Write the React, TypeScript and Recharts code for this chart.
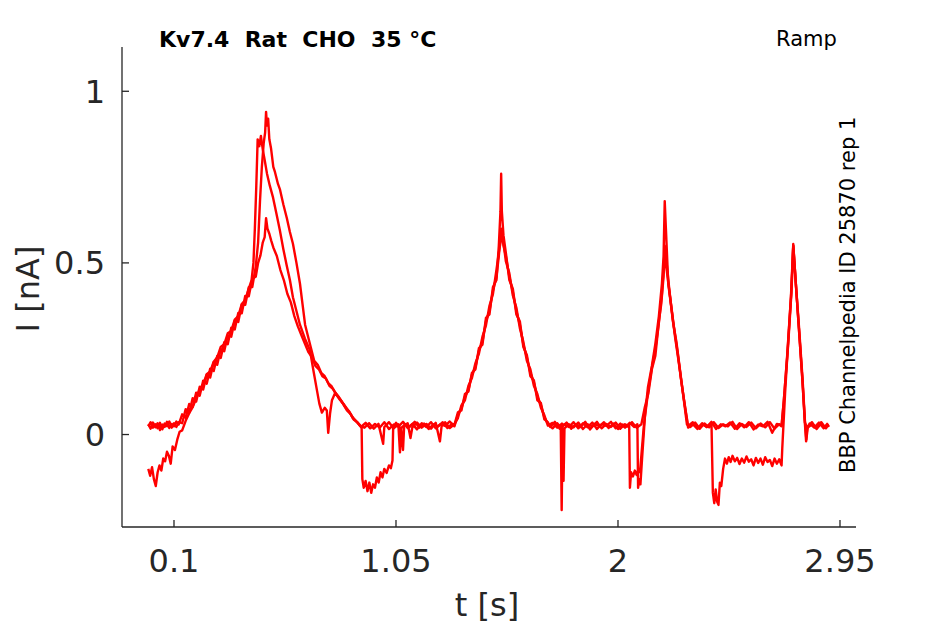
import { LineChart, Line, XAxis, YAxis } from 'recharts';

// time [s], current [nA], one list per sweep
const traceA: [number, number][] = [
  [-0.01, 0.03], [0.0, 0.017], [0.01, 0.035], [0.02, 0.021], [0.03, 0.033], [0.04, 0.013], [0.05, 0.029], [0.06, 0.022], [0.07, 0.037], [0.08, 0.019], [0.09, 0.031], [0.1, 0.024], [0.11, 0.038], [0.12, 0.029],
  [0.135, 0.059], [0.15, 0.048], [0.165, 0.089], [0.18, 0.08], [0.195, 0.122], [0.21, 0.113], [0.225, 0.157], [0.24, 0.148], [0.255, 0.192], [0.27, 0.185], [0.285, 0.229], [0.3, 0.223], [0.315, 0.269], [0.33, 0.263], [0.345, 0.311], [0.36, 0.306], [0.375, 0.354], [0.39, 0.353], [0.405, 0.404], [0.42, 0.403], [0.435, 0.454], [0.45, 0.46], [0.46, 0.5], [0.47, 0.522], [0.48, 0.56], [0.488, 0.575], [0.494, 0.63], [0.5, 0.6],
  [0.508, 0.585], [0.516, 0.565], [0.525, 0.545], [0.54, 0.52], [0.555, 0.48], [0.57, 0.45], [0.585, 0.41], [0.6, 0.385], [0.615, 0.345], [0.63, 0.315], [0.645, 0.29], [0.66, 0.265], [0.675, 0.24], [0.69, 0.226], [0.705, 0.2], [0.72, 0.19], [0.735, 0.17], [0.75, 0.163], [0.765, 0.142], [0.78, 0.133], [0.795, 0.116], [0.81, 0.101], [0.825, 0.088], [0.84, 0.07], [0.855, 0.06], [0.87, 0.043], [0.885, 0.036], [0.9, 0.022],
  [0.92, 0.034], [0.94, 0.018], [0.96, 0.031], [0.98, 0.02], [1.0, 0.036], [1.02, 0.016], [1.04, 0.029], [1.06, 0.023], [1.08, 0.037], [1.1, 0.019], [1.12, 0.031], [1.14, 0.015], [1.16, 0.033], [1.18, 0.022], [1.2, 0.036], [1.22, 0.018], [1.24, 0.03], [1.26, 0.025], [1.28, 0.038], [1.3, 0.024],
  [1.315, 0.058], [1.33, 0.076], [1.345, 0.11], [1.36, 0.13], [1.375, 0.175], [1.39, 0.196], [1.405, 0.245], [1.42, 0.27], [1.435, 0.33], [1.45, 0.36], [1.465, 0.42], [1.48, 0.46], [1.49, 0.52], [1.5, 0.6], [1.51, 0.55], [1.52, 0.52], [1.535, 0.46], [1.55, 0.415], [1.565, 0.36], [1.58, 0.32], [1.595, 0.262], [1.61, 0.225], [1.625, 0.18], [1.64, 0.152], [1.655, 0.11], [1.67, 0.086], [1.685, 0.05], [1.7, 0.032],
  [1.72, 0.018], [1.74, 0.033], [1.755, 0.021], [1.759, -0.22], [1.763, 0.024], [1.78, 0.035], [1.8, 0.017], [1.82, 0.03], [1.84, 0.022], [1.86, 0.037], [1.88, 0.015], [1.9, 0.031], [1.92, 0.024], [1.94, 0.036], [1.96, 0.019], [1.98, 0.032], [2.0, 0.016], [2.02, 0.029], [2.04, 0.023], [2.06, 0.036], [2.08, 0.02], [2.1, 0.03],
  [2.115, 0.08], [2.13, 0.12], [2.145, 0.19], [2.16, 0.23], [2.175, 0.33], [2.185, 0.38], [2.195, 0.46], [2.2, 0.53], [2.21, 0.47], [2.225, 0.39], [2.24, 0.31], [2.255, 0.24], [2.27, 0.16], [2.285, 0.09], [2.3, 0.025],
  [2.32, 0.036], [2.34, 0.018], [2.36, 0.031], [2.38, 0.022], [2.4, 0.037], [2.42, 0.016], [2.44, 0.03], [2.46, 0.024], [2.48, 0.035], [2.5, 0.017], [2.52, 0.033], [2.54, 0.021], [2.56, 0.036], [2.58, 0.015], [2.6, 0.029], [2.62, 0.024], [2.64, 0.037], [2.66, 0.005], [2.68, 0.031], [2.7, 0.026],
  [2.71, 0.1], [2.725, 0.24], [2.74, 0.4], [2.75, 0.555], [2.76, 0.45], [2.775, 0.3], [2.79, 0.15], [2.8, 0.03], [2.805, -0.02], [2.81, 0.022],
  [2.83, 0.036], [2.85, 0.016], [2.87, 0.033], [2.885, 0.02], [2.9, 0.03],
];

const traceB: [number, number][] = [
  [-0.01, -0.1], [-0.002, -0.12], [0.006, -0.095], [0.014, -0.13], [0.022, -0.15], [0.03, -0.11], [0.038, -0.09], [0.046, -0.105], [0.054, -0.07], [0.062, -0.078], [0.07, -0.05], [0.078, -0.062], [0.086, -0.085], [0.094, -0.035], [0.104, -0.045], [0.114, -0.015], [0.124, 0.008], [0.135, 0.012], [0.15, 0.04], [0.165, 0.062], [0.18, 0.08],
  [0.195, 0.105], [0.21, 0.132], [0.225, 0.147], [0.24, 0.176], [0.255, 0.184], [0.27, 0.212], [0.285, 0.225], [0.3, 0.255], [0.315, 0.263], [0.33, 0.295], [0.345, 0.302], [0.36, 0.335], [0.375, 0.345], [0.39, 0.38], [0.405, 0.392], [0.42, 0.425], [0.432, 0.45], [0.44, 0.5], [0.446, 0.6], [0.452, 0.72], [0.458, 0.86], [0.465, 0.84], [0.472, 0.87], [0.48, 0.83], [0.488, 0.8], [0.498, 0.76],
  [0.51, 0.725], [0.524, 0.69], [0.538, 0.645], [0.553, 0.595], [0.568, 0.54], [0.583, 0.49], [0.596, 0.45], [0.609, 0.4], [0.624, 0.36], [0.639, 0.32], [0.66, 0.28], [0.682, 0.245], [0.697, 0.185], [0.712, 0.128], [0.722, 0.09], [0.733, 0.064], [0.745, 0.078], [0.754, 0.07], [0.76, 0.005], [0.768, 0.062], [0.776, 0.1], [0.79, 0.122], [0.805, 0.108], [0.82, 0.094], [0.835, 0.078], [0.85, 0.067], [0.865, 0.048], [0.88, 0.039], [0.895, 0.026],
  [0.915, 0.02], [0.935, 0.033], [0.955, 0.017], [0.975, 0.031], [0.995, -0.027], [1.0, 0.022], [1.02, 0.036], [1.04, 0.018], [1.06, 0.03], [1.067, -0.052], [1.072, 0.02], [1.08, -0.045], [1.085, 0.025], [1.1, 0.033], [1.112, -0.01], [1.12, 0.021], [1.14, 0.035], [1.16, 0.02], [1.18, 0.031], [1.2, 0.017], [1.22, 0.034], [1.238, -0.02], [1.245, 0.024], [1.26, 0.036], [1.28, 0.019], [1.3, 0.03],
  [1.315, 0.048], [1.33, 0.085], [1.345, 0.1], [1.36, 0.142], [1.375, 0.165], [1.39, 0.208], [1.405, 0.236], [1.42, 0.285], [1.435, 0.318], [1.45, 0.375], [1.465, 0.41], [1.48, 0.48], [1.49, 0.53], [1.5, 0.57], [1.51, 0.56], [1.52, 0.505], [1.535, 0.47], [1.55, 0.405], [1.565, 0.37], [1.58, 0.31], [1.595, 0.27], [1.61, 0.215], [1.625, 0.19], [1.64, 0.142], [1.655, 0.118], [1.67, 0.078], [1.685, 0.056], [1.7, 0.026],
  [1.72, 0.034], [1.74, 0.02], [1.76, 0.032], [1.767, -0.135], [1.771, 0.018], [1.79, 0.03], [1.81, 0.021], [1.83, 0.035], [1.85, 0.016], [1.87, 0.03], [1.89, 0.024], [1.91, 0.037], [1.93, 0.018], [1.95, 0.031], [1.97, 0.022], [1.99, 0.035], [2.01, 0.017], [2.03, 0.03], [2.048, 0.024],
  [2.051, -0.155], [2.056, -0.11], [2.064, -0.122], [2.072, -0.105], [2.08, -0.118], [2.088, -0.1], [2.094, -0.11], [2.11, 0.02], [2.128, 0.137], [2.145, 0.2], [2.16, 0.265], [2.175, 0.345], [2.188, 0.44], [2.195, 0.52], [2.2, 0.68], [2.205, 0.6], [2.215, 0.44], [2.23, 0.36], [2.245, 0.28], [2.26, 0.21], [2.275, 0.135], [2.29, 0.065], [2.3, 0.02],
  [2.32, 0.03], [2.34, 0.016], [2.36, 0.033], [2.38, 0.022], [2.4, 0.034], [2.406, -0.17], [2.412, -0.2], [2.418, -0.16], [2.424, -0.195], [2.43, -0.205], [2.436, -0.14], [2.442, -0.15], [2.45, -0.1], [2.458, -0.07], [2.466, -0.085], [2.474, -0.066], [2.482, -0.08], [2.49, -0.062], [2.5, -0.078], [2.51, -0.068], [2.52, -0.086], [2.53, -0.07], [2.54, -0.082], [2.55, -0.064], [2.56, -0.079], [2.57, -0.072], [2.58, -0.09], [2.59, -0.068], [2.6, -0.083], [2.61, -0.07], [2.62, -0.088], [2.63, -0.066], [2.64, -0.08], [2.65, -0.074], [2.66, -0.092], [2.67, -0.07], [2.68, -0.085], [2.69, -0.072], [2.7, -0.09],
  [2.703, -0.04], [2.715, 0.12], [2.73, 0.29], [2.742, 0.42], [2.75, 0.55], [2.762, 0.43], [2.775, 0.31], [2.79, 0.16], [2.8, 0.04], [2.806, -0.015], [2.812, 0.02],
  [2.83, 0.03], [2.85, 0.021], [2.87, 0.036], [2.89, 0.018], [2.9, 0.028],
];

const traceC: [number, number][] = [
  [-0.01, 0.024], [0.0, 0.036], [0.01, 0.02], [0.02, 0.03], [0.03, 0.018], [0.04, 0.034], [0.05, 0.015], [0.06, 0.032], [0.07, 0.024], [0.08, 0.038], [0.09, 0.02], [0.1, 0.033], [0.11, 0.022], [0.12, 0.036],
  [0.135, 0.033], [0.15, 0.074], [0.165, 0.063], [0.18, 0.106], [0.195, 0.096], [0.21, 0.139], [0.225, 0.131], [0.24, 0.174], [0.255, 0.166], [0.27, 0.211], [0.285, 0.203], [0.3, 0.249], [0.315, 0.243], [0.33, 0.289], [0.345, 0.285], [0.36, 0.332], [0.375, 0.328], [0.39, 0.379], [0.405, 0.378], [0.42, 0.429], [0.435, 0.43], [0.45, 0.49], [0.46, 0.56], [0.468, 0.68], [0.476, 0.78], [0.484, 0.85], [0.49, 0.88], [0.494, 0.94], [0.498, 0.9], [0.503, 0.92],
  [0.508, 0.86], [0.515, 0.835], [0.525, 0.78], [0.532, 0.765], [0.545, 0.73], [0.553, 0.715], [0.568, 0.67], [0.583, 0.63], [0.596, 0.59], [0.609, 0.556], [0.624, 0.5], [0.639, 0.44], [0.65, 0.38], [0.661, 0.32], [0.672, 0.29], [0.685, 0.255], [0.7, 0.215], [0.715, 0.203], [0.73, 0.18], [0.745, 0.17], [0.76, 0.15], [0.775, 0.14], [0.79, 0.122], [0.805, 0.11], [0.82, 0.094], [0.835, 0.08], [0.85, 0.066], [0.865, 0.05], [0.88, 0.038], [0.895, 0.028],
  [0.903, 0.02], [0.906, -0.13], [0.912, -0.155], [0.92, -0.135], [0.928, -0.165], [0.936, -0.14], [0.944, -0.17], [0.952, -0.145], [0.96, -0.155], [0.968, -0.125], [0.976, -0.14], [0.984, -0.11], [0.992, -0.125], [1.0, -0.1], [1.01, -0.112], [1.02, -0.09], [1.028, -0.098], [1.035, -0.076], [1.038, 0.022],
  [1.05, 0.034], [1.07, 0.017], [1.09, 0.03], [1.11, 0.023], [1.13, 0.037], [1.15, 0.02], [1.17, 0.032], [1.19, 0.016], [1.21, 0.03], [1.23, 0.024], [1.25, 0.036], [1.27, 0.019], [1.29, 0.031], [1.3, 0.028],
  [1.315, 0.065], [1.33, 0.07], [1.345, 0.118], [1.36, 0.125], [1.375, 0.18], [1.39, 0.19], [1.405, 0.252], [1.42, 0.262], [1.435, 0.34], [1.45, 0.35], [1.465, 0.43], [1.48, 0.45], [1.49, 0.55], [1.497, 0.65], [1.5, 0.76], [1.503, 0.65], [1.51, 0.58], [1.52, 0.53], [1.535, 0.45], [1.55, 0.425], [1.565, 0.35], [1.58, 0.33], [1.595, 0.255], [1.61, 0.232], [1.625, 0.17], [1.64, 0.158], [1.655, 0.1], [1.67, 0.092], [1.685, 0.044], [1.7, 0.036],
  [1.71, 0.022], [1.73, 0.037], [1.75, 0.017], [1.77, 0.03], [1.79, 0.022], [1.81, 0.036], [1.83, 0.018], [1.85, 0.033], [1.87, 0.021], [1.89, 0.035], [1.91, 0.016], [1.93, 0.03], [1.95, 0.025], [1.97, 0.037], [1.99, 0.018], [2.01, 0.032], [2.03, 0.02], [2.05, 0.034], [2.07, 0.022], [2.083, 0.03],
  [2.086, -0.155], [2.091, -0.13], [2.096, -0.145], [2.103, -0.07], [2.115, 0.05], [2.13, 0.13], [2.145, 0.195], [2.16, 0.25], [2.175, 0.325], [2.188, 0.41], [2.196, 0.49], [2.2, 0.55], [2.208, 0.5], [2.22, 0.42], [2.235, 0.33], [2.25, 0.27], [2.265, 0.19], [2.28, 0.11], [2.295, 0.03],
  [2.31, 0.022], [2.33, 0.035], [2.35, 0.017], [2.37, 0.032], [2.39, 0.021], [2.41, 0.036], [2.43, 0.019], [2.45, 0.03], [2.47, 0.024], [2.49, 0.037], [2.51, 0.016], [2.53, 0.031], [2.55, 0.022], [2.57, 0.035], [2.59, 0.018], [2.61, 0.032], [2.63, 0.021], [2.65, 0.036], [2.67, 0.017], [2.69, 0.03], [2.7, 0.024],
  [2.712, 0.12], [2.728, 0.26], [2.742, 0.41], [2.75, 0.55], [2.758, 0.47], [2.772, 0.33], [2.788, 0.17], [2.8, 0.035], [2.81, 0.018],
  [2.82, 0.032], [2.84, 0.02], [2.86, 0.035], [2.88, 0.018], [2.895, 0.031], [2.903, 0.022],
];

const X_TICKS = [0.1, 1.05, 2, 2.95];
const Y_TICKS = [0, 0.5, 1];

const AXIS_COLOR = '#262626';
const FONT = 'DejaVu Sans';

const toPoints = (trace: [number, number][]) => trace.map(([t, i]) => ({ t, i }));

export default function App() {
  const sweeps = [traceA, traceB, traceC].map(toPoints);

  return (
    <div style={{ position: 'absolute', left: 0, top: 0, width: 945, height: 624, background: '#fff' }}>
      <LineChart
        width={945}
        height={624}
        margin={{ top: 47, right: 89, bottom: 37, left: 62 }}
      >
        <XAxis
          dataKey="t"
          type="number"
          domain={[-0.1225, 3.0185]}
          allowDataOverflow
          ticks={X_TICKS}
          tickFormatter={(v: number) => String(v)}
          height={60}
          tickSize={-7}
          tickMargin={29}
          stroke={AXIS_COLOR}
          strokeWidth={1.3}
          tick={{ fontSize: 32, fill: AXIS_COLOR, fontFamily: FONT }}
        />
        <YAxis
          type="number"
          domain={[-0.2694, 1.129]}
          allowDataOverflow
          ticks={Y_TICKS}
          tickFormatter={(v: number) => String(v)}
          width={60}
          tickSize={-7}
          tickMargin={24}
          stroke={AXIS_COLOR}
          strokeWidth={1.3}
          tick={{ fontSize: 32, fill: AXIS_COLOR, fontFamily: FONT }}
        />
        {sweeps.map((pts, idx) => (
          <Line
            key={`sweep-${idx}`}
            data={pts}
            dataKey="i"
            type="linear"
            stroke="#ff0000"
            strokeWidth={2.4}
            strokeLinejoin="round"
            dot={false}
            isAnimationActive={false}
          />
        ))}
      </LineChart>
      <svg
        width={945}
        height={624}
        style={{ position: 'absolute', left: 0, top: 0, pointerEvents: 'none' }}
      >
        <text x={159} y={47} fontFamily={FONT} fontWeight="bold" fontSize={22} fill="#000">
          {'Kv7.4\u00a0\u00a0Rat\u00a0\u00a0CHO\u00a0\u00a035 °C'}
        </text>
        <text x={776} y={46} fontFamily={FONT} fontSize={21} fill="#000">
          Ramp
        </text>
        <text
          x={855}
          y={473}
          transform="rotate(-90 855 473)"
          fontFamily={FONT}
          fontSize={21}
          fill="#000"
        >
          BBP Channelpedia ID 25870 rep 1
        </text>
        <text x={487} y={616} textAnchor="middle" fontFamily={FONT} fontSize={32} fill={AXIS_COLOR}>
          t [s]
        </text>
        <text
          x={39}
          y={289}
          textAnchor="middle"
          transform="rotate(-90 39 289)"
          fontFamily={FONT}
          fontSize={32}
          fill={AXIS_COLOR}
        >
          I [nA]
        </text>
      </svg>
    </div>
  );
}
